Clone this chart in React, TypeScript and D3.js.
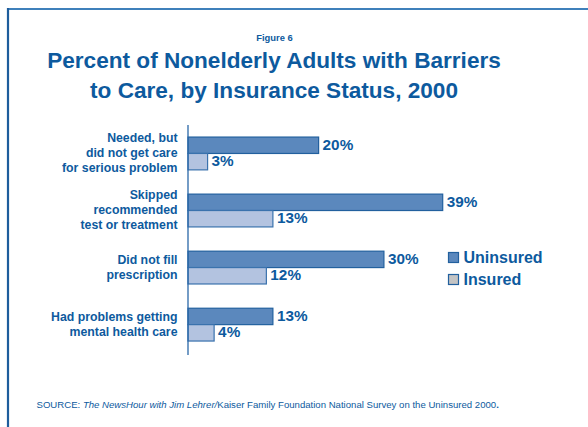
import React from "react";
import * as d3 from "d3";

const categories: string[][] = [
  ["Needed, but", "did not get care", "for serious problem"],
  ["Skipped", "recommended", "test or treatment"],
  ["Did not fill", "prescription"],
  ["Had problems getting", "mental health care"],
];
const uninsured = [20, 39, 30, 13];
const insured = [3, 13, 12, 4];
const seriesNames = ["Uninsured", "Insured"];

const W = 588;
const H = 427;
const textColor = "#0d5a9e";
const font = "'Liberation Sans', Arial, Helvetica, sans-serif";

export default function App() {
  const x = d3.scaleLinear().domain([0, 39]).range([188, 442.7]);
  const y = d3
    .scaleBand<number>()
    .domain(d3.range(categories.length))
    .range([122.8, 355.3])
    .paddingInner(0.425)
    .paddingOuter(0.25);
  const bh = y.bandwidth() / 2;

  return (
    <svg
      width={W}
      height={H}
      style={{ position: "absolute", left: 0, top: 0, background: "#fff" }}
      fontFamily={font}
    >
      <line x1={8} x2={W} y1={9} y2={9} stroke="#3f80bb" strokeWidth={2.2} />
      <line x1={8} x2={8} y1={8} y2={H} stroke="#1e5d9c" strokeWidth={2.2} />

      <text x={274.5} y={40.5} textAnchor="middle" fontSize={9.4} fontWeight="bold" fill={textColor}>
        Figure 6
      </text>
      <text x={274} y={68} textAnchor="middle" fontSize={22.6} fontWeight="bold" fill={textColor}>
        Percent of Nonelderly Adults with Barriers
      </text>
      <text x={274} y={98} textAnchor="middle" fontSize={22.6} fontWeight="bold" fill={textColor}>
        to Care, by Insurance Status, 2000
      </text>

      {categories.map((lines, i) => {
        const cy = (y(i) as number) + bh - 1;
        const lh = 15;
        const start = cy - ((lines.length - 1) * lh) / 2;
        return (
          <text key={"c" + i} textAnchor="end" fontSize={12.3} fontWeight="bold" fill={textColor}>
            {lines.map((l, j) => (
              <tspan key={j} x={177.5} y={start + j * lh} dy="0.36em">
                {l}
              </tspan>
            ))}
          </text>
        );
      })}

      {uninsured.map((v, i) => (
        <g key={"u" + i}>
          <rect
            x={x(0)}
            y={y(i) as number}
            width={x(v) - x(0)}
            height={bh}
            fill="#5b88bd"
            stroke="#22609e"
            strokeWidth={1.2}
          />
          <text
            x={x(v) + 4}
            y={(y(i) as number) + bh / 2 - 1}
            dy="0.36em"
            fontSize={15.3}
            fontWeight="bold"
            fill={textColor}
          >
            {v}%
          </text>
        </g>
      ))}
      {insured.map((v, i) => (
        <g key={"n" + i}>
          <rect
            x={x(0)}
            y={(y(i) as number) + bh}
            width={x(v) - x(0)}
            height={bh}
            fill="#b3c3e0"
            stroke="#3a72ad"
            strokeWidth={1.2}
          />
          <text
            x={x(v) + 4}
            y={(y(i) as number) + bh * 1.5 - 1}
            dy="0.36em"
            fontSize={15.3}
            fontWeight="bold"
            fill={textColor}
          >
            {v}%
          </text>
        </g>
      ))}

      <line x1={188} x2={188} y1={125} y2={355} stroke="#2a68a8" strokeWidth={1.3} />

      {seriesNames.map((s, i) => (
        <g key={"l" + i}>
          <rect
            x={448.5}
            y={252.5 + i * 22}
            width={10}
            height={10}
            fill={i === 0 ? "#5b88bd" : "#c4c4c4"}
            stroke="#22609e"
            strokeWidth={1.2}
          />
          <text x={463.5} y={262.5 + i * 22} fontSize={16} fontWeight="bold" fill={textColor}>
            {s}
          </text>
        </g>
      ))}

      <text x={36.5} y={407.5} fontSize={9.6} fill={textColor}>
        SOURCE: <tspan fontStyle="italic">The NewsHour with Jim Lehrer/</tspan>Kaiser Family Foundation National Survey on the Uninsured 2000
        <tspan fontWeight="bold">.</tspan>
      </text>
    </svg>
  );
}
